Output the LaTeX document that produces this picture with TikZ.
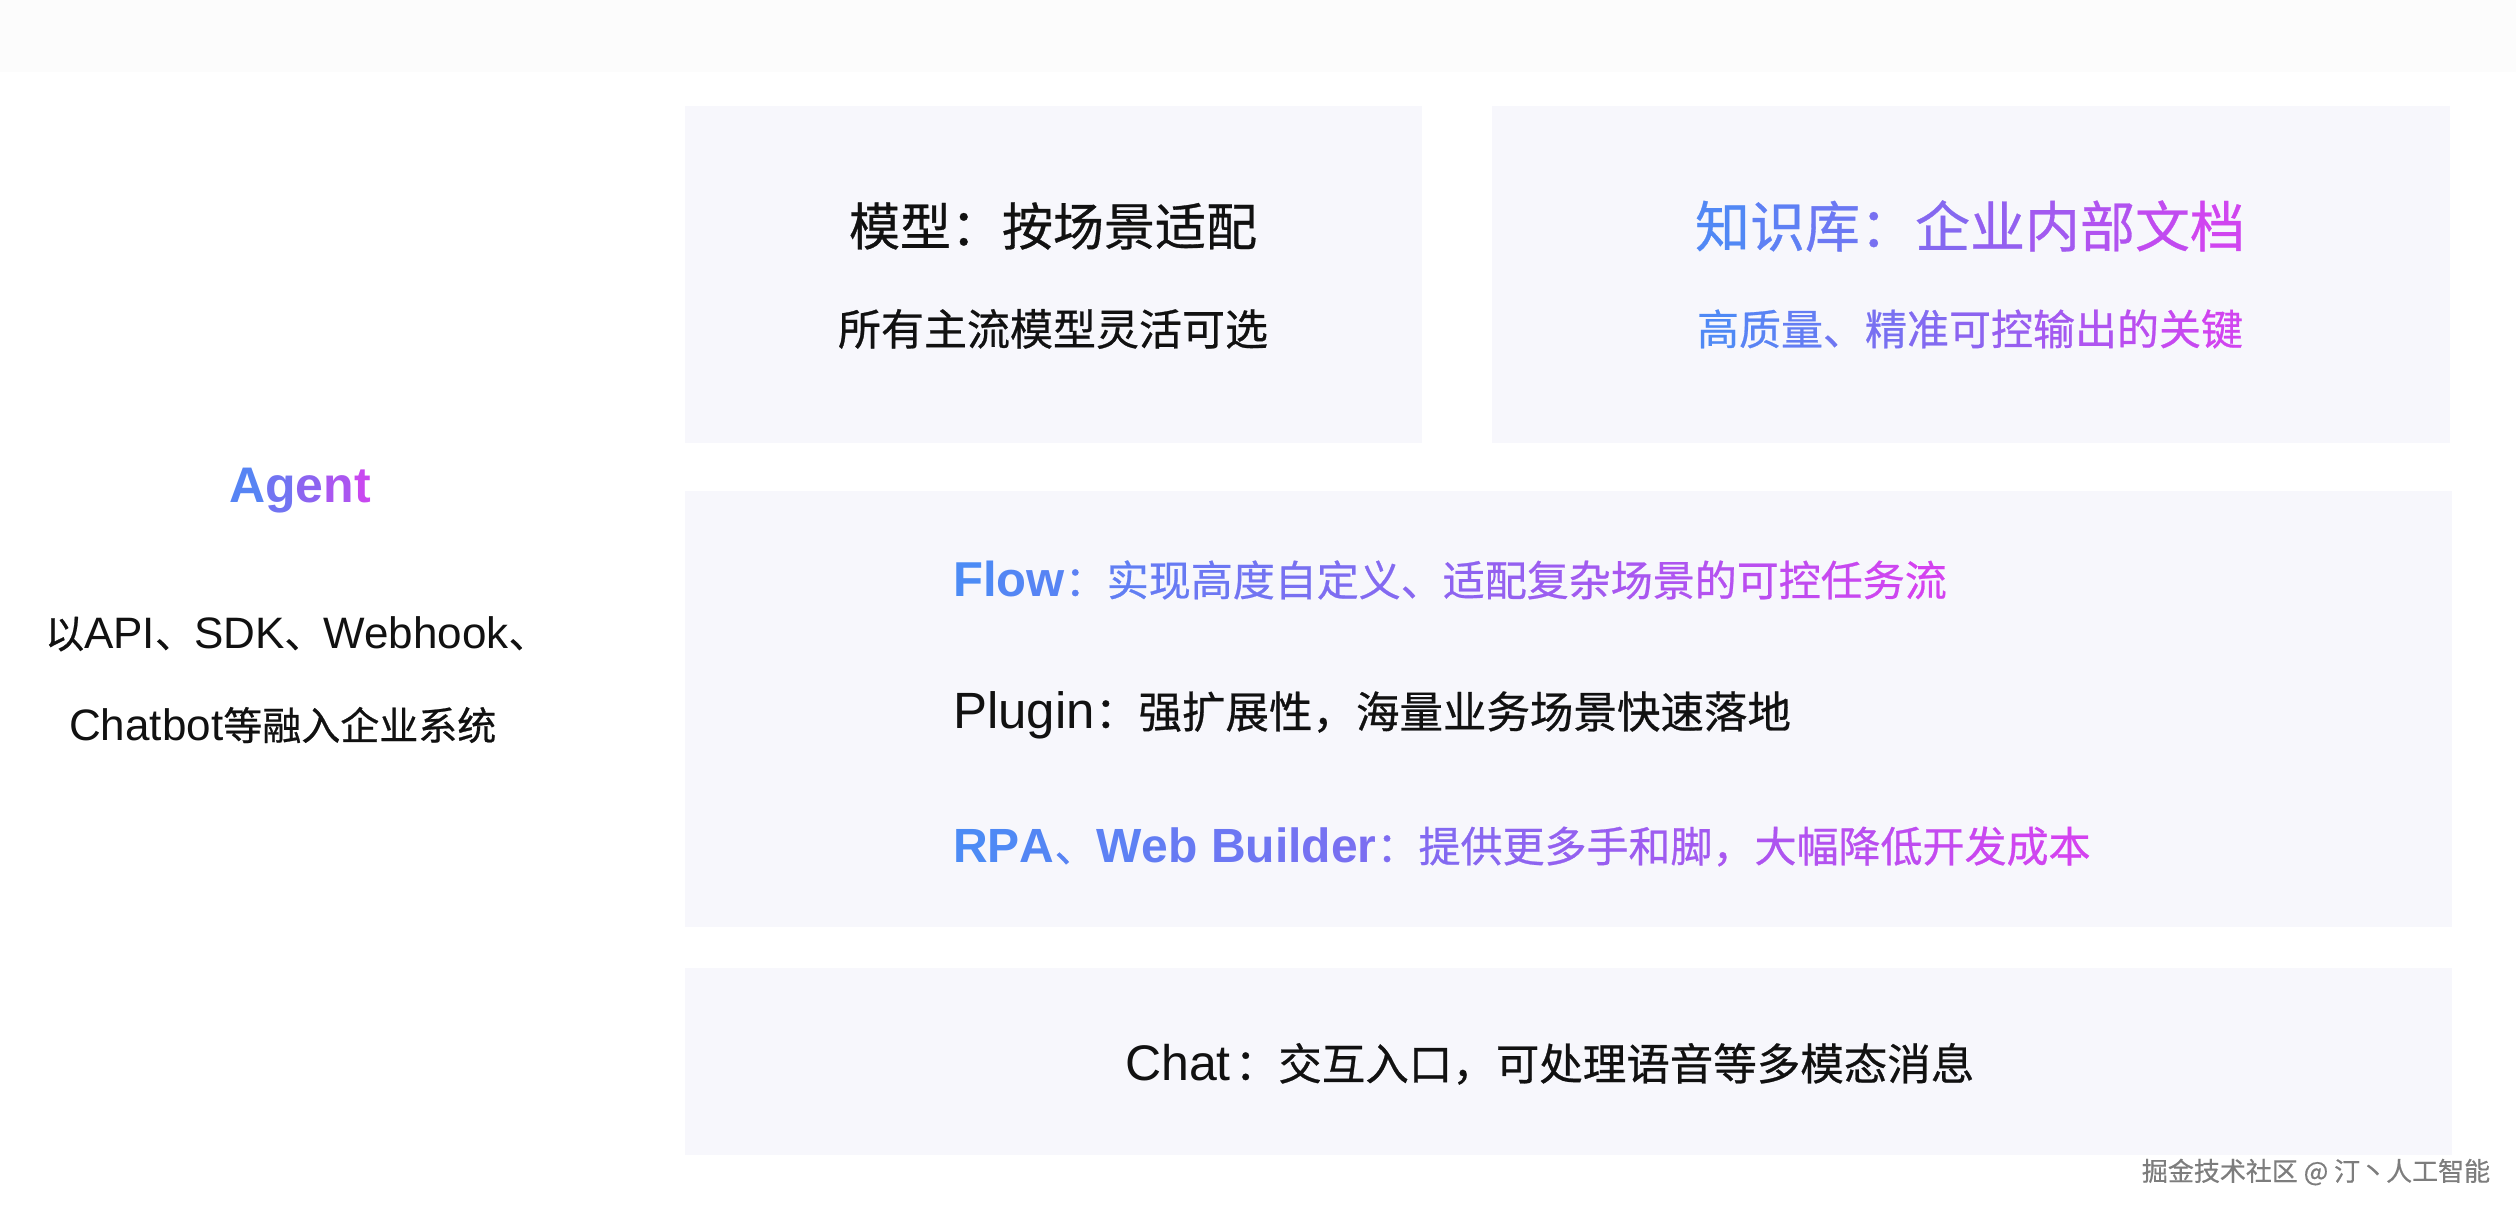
\documentclass[tikz,border=0pt]{standalone}
\usepackage{fontspec}
\setmainfont{Noto Sans CJK SC}
\newfontfamily\cjk{Noto Sans CJK SC}[FakeBold=0.6]
\newfontfamily\lat{Liberation Sans}
\definecolor{gB}{RGB}{74,140,245}
\definecolor{gP}{RGB}{140,100,240}
\definecolor{gM}{RGB}{215,65,240}
\definecolor{boxfill}{RGB}{247,247,252}
\definecolor{stripcol}{RGB}{252,252,252}
\definecolor{ink}{RGB}{17,17,17}
\definecolor{wmark}{RGB}{125,125,125}
\newcommand\fs[1]{\fontsize{#1}{#1}\selectfont}
\ExplSyntaxOn
\int_new:N \l_gt_n_int
\int_new:N \l_gt_i_int
\fp_new:N \l_gt_t_fp
\cs_new_protected:Npn \gradseg #1#2#3
  {
    \int_set:Nn \l_gt_n_int { \str_count:n {#3} }
    \int_zero:N \l_gt_i_int
    \str_map_inline:nn {#3}
      {
        \int_incr:N \l_gt_i_int
        \fp_set:Nn \l_gt_t_fp { #1 + (#2 - #1) * (\l_gt_i_int - 0.5) / \l_gt_n_int }
        \group_begin:
        \fp_compare:nNnTF \l_gt_t_fp < { 0.5 }
          { \exp_args:Ne \color { gP!\fp_eval:n { round(200 * \l_gt_t_fp) }!gB } }
          { \exp_args:Ne \color { gM!\fp_eval:n { round(200 * \l_gt_t_fp - 100) }!gP } }
        ##1
        \group_end:
      }
  }
\ExplSyntaxOff
\begin{document}
\begin{tikzpicture}[x=1pt,y=-1pt,
  panel/.style={fill=boxfill,draw=none,inner sep=0pt,anchor=north west},
  txt/.style={inner sep=0pt,text=ink}]
\useasboundingbox (0,0) rectangle (2516,1216);
\fill[white] (0,0) rectangle (2516,1216);
\fill[stripcol] (0,0) rectangle (2516,72);
% panels
\node[panel,minimum width=737pt,minimum height=337pt] (box1) at (685,106) {};
\node[panel,minimum width=958pt,minimum height=337pt] (box2) at (1492,106) {};
\node[panel,minimum width=1767pt,minimum height=436pt] (box3) at (685,491) {};
\node[panel,minimum width=1767pt,minimum height=187pt] (box4) at (685,968) {};
% model box
\node[txt] (t1) at (1053,226) {\cjk\fs{51}模型：按场景适配};
\node[txt] (s1) at (1053,329) {\cjk\fs{43}所有主流模型灵活可选};
% knowledge box
\node[txt] (t2) at (1970,226) {\cjk\fs{55}\gradseg{0}{1}{知识库：企业内部文档}};
\node[txt] (s2) at (1970,329) {\cjk\fs{42}\gradseg{0}{1}{高质量、精准可控输出的关键}};
% agent
\node[txt,anchor=base west] (agent) at (229,502) {\lat\bfseries\fs{50}\gradseg{0}{1}{Agent}};
\node[txt,anchor=base west] (a1) at (45,648) {\cjk\fs{39}以\lat\fs{44}API\cjk\fs{39}、\lat\fs{44}SDK\cjk\fs{39}、\lat\fs{44}Webhook\cjk\fs{39}、};
\node[txt,anchor=base west] (a2) at (69,740) {\lat\fs{44}Chatbot\cjk\fs{39}等融入企业系统};
% middle box
\node[txt,anchor=base west] (flow) at (953,596) {\lat\bfseries\fs{49}\gradseg{0}{0.112}{Flow}\cjk\mdseries\fs{42}\gradseg{0.112}{1}{：实现高度自定义、适配复杂场景的可控任务流}};
\node[txt,anchor=base west] (plugin) at (953,728) {\lat\fs{51}Plugin\cjk\fs{43.5}：强扩展性，海量业务场景快速落地};
\node[txt,anchor=base west] (rpa) at (953,862) {\lat\bfseries\fs{48}\gradseg{0}{0.084}{RPA}\cjk\mdseries\fs{42}\gradseg{0.084}{0.128}{、}\lat\bfseries\fs{48}\gradseg{0.128}{0.24}{Web}\ \gradseg{0.25}{0.378}{Builder}\cjk\mdseries\fs{42}\gradseg{0.378}{1}{：提供更多手和脚，大幅降低开发成本}};
% chat box
\node[txt,anchor=base west] (chat) at (1125,1080) {\lat\fs{50}Chat\cjk\fs{43.5}\kern4pt：交互入口，可处理语音等多模态消息};
% watermark
\node[inner sep=0pt,text=wmark] (wm) at (2316,1172) {\cjk\fs{26}掘金技术社区 @ 汀丶人工智能};
\end{tikzpicture}
\end{document}
